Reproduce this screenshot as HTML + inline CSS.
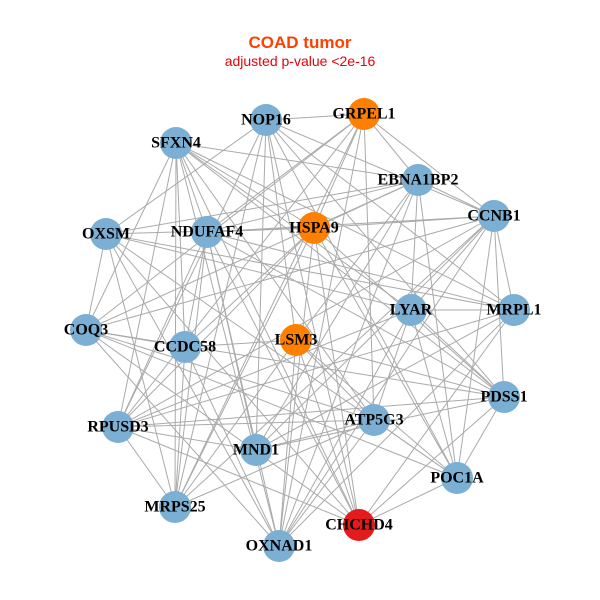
<!DOCTYPE html>
<html><head><meta charset="utf-8"><style>
body{margin:0;background:#fff}
svg{display:block}
.l{font-family:"Liberation Serif",serif;font-weight:bold;font-size:16px;fill:#000;text-anchor:middle;dominant-baseline:central}
</style></head><body>
<svg id="s" width="600" height="600" xmlns="http://www.w3.org/2000/svg">
<text x="300" y="48" font-family="Liberation Sans,sans-serif" font-weight="bold" font-size="17" fill="#FF4000" text-anchor="middle">COAD tumor</text>
<text x="300" y="66" font-family="Liberation Sans,sans-serif" font-size="14" fill="#E8000B" text-anchor="middle">adjusted p-value &lt;2e-16</text>
<g id="e" stroke="#aaaaaa" stroke-width="1"></g>
<g id="n"></g>
</svg>
<script>
var N=[["GRPEL1",364,114,"#FF7F00"],["NOP16",266,120],["SFXN4",176,143],["EBNA1BP2",418,180],["CCNB1",494,216],["OXSM",106,234],["NDUFAF4",207,232],["HSPA9",314,228,"#FF7F00"],["LYAR",411,310],["MRPL1",514,310],["COQ3",86,330],["CCDC58",185,347],["LSM3",296,340,"#FF7F00"],["PDSS1",504,397],["ATP5G3",374,420],["RPUSD3",118,427],["MND1",256,450],["POC1A",457,478],["MRPS25",175,507],["CHCHD4",359,525,"#E41A1C"],["OXNAD1",279,546]];
var e=document.getElementById("e"),g=document.getElementById("n"),ns="http://www.w3.org/2000/svg",seed=7;
function r(){seed=(seed*16807)%2147483647;return seed/2147483647;}
for(var i=0;i<N.length;i++)for(var j=i+1;j<N.length;j++){if(r()<0.6){var l=document.createElementNS(ns,"line");l.setAttribute("x1",N[i][1]);l.setAttribute("y1",N[i][2]);l.setAttribute("x2",N[j][1]);l.setAttribute("y2",N[j][2]);e.appendChild(l);}}
N.forEach(function(d){var c=document.createElementNS(ns,"circle");c.setAttribute("cx",d[1]);c.setAttribute("cy",d[2]);c.setAttribute("r",16);c.setAttribute("fill",d[3]||"#7BAFD4");g.appendChild(c);});
N.forEach(function(d){var t=document.createElementNS(ns,"text");t.setAttribute("x",d[1]);t.setAttribute("y",d[2]);t.setAttribute("class","l");t.textContent=d[0];g.appendChild(t);});
</script>
</body></html>
